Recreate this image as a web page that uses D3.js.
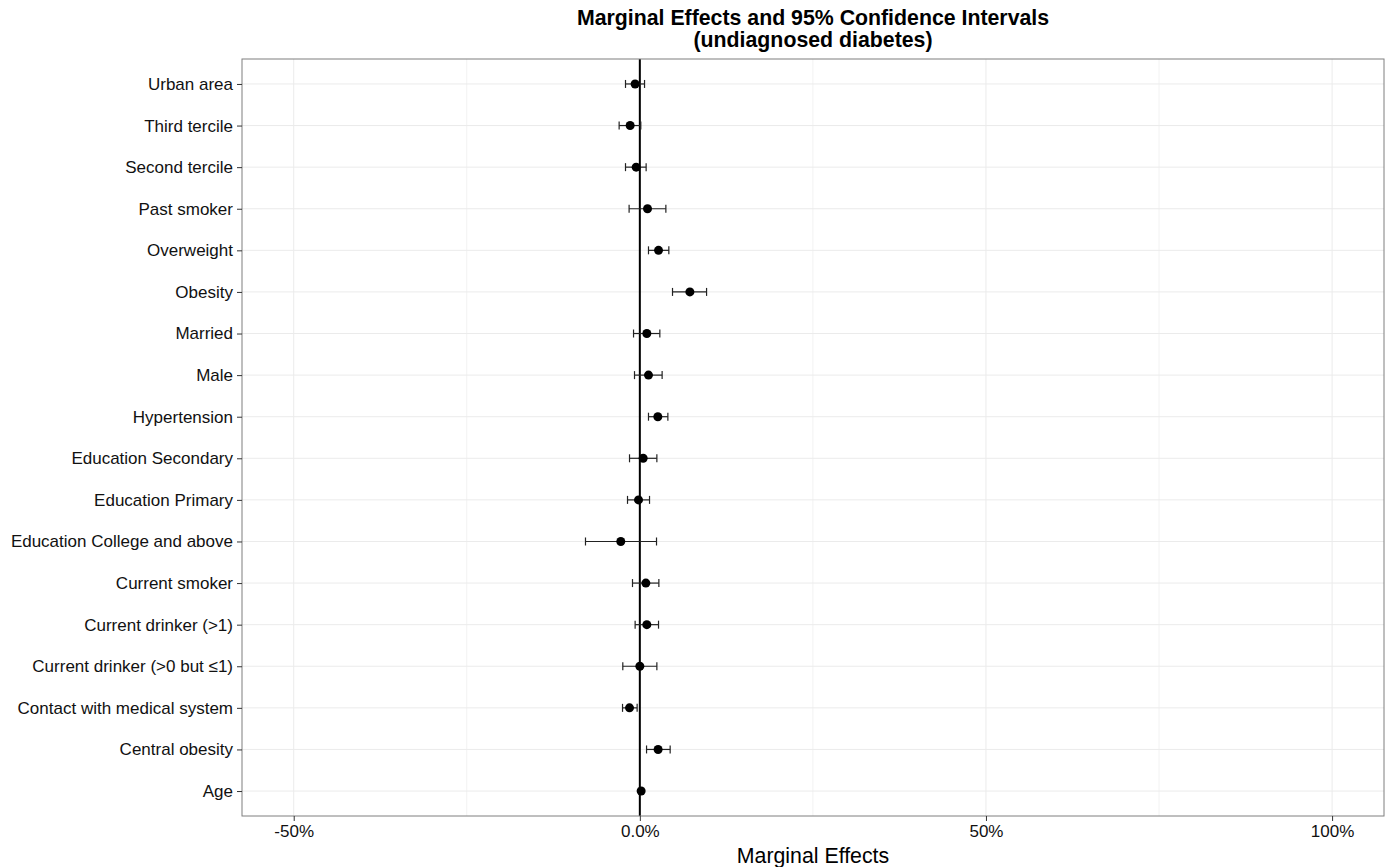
<!DOCTYPE html>
<html>
<head>
<meta charset="utf-8">
<script src="https://cdn.jsdelivr.net/npm/d3@7"></script>
<style>
  body { margin: 0; background: #fff; }
  text { font-family: "Liberation Sans", Arial, sans-serif; }
</style>
</head>
<body>
<svg id="chart" width="1388" height="867"></svg>
<script>
// variables, top row first
let variables = ["Urban area", "Third tercile", "Second tercile", "Past smoker", "Overweight",
  "Obesity", "Married", "Male", "Hypertension", "Education Secondary", "Education Primary",
  "Education College and above", "Current smoker", "Current drinker (>1)",
  "Current drinker (>0 but \u22641)", "Contact with medical system", "Central obesity", "Age"]
// marginal effects (%) and 95% CI bounds
let effects = [-0.68, -1.40, -0.53, 1.11, 2.70, 7.23, 1.01, 1.25, 2.60, 0.48, -0.19, -2.75, 0.87, 1.01, 0.00, -1.49, 2.64, 0.19]
let lower   = [-2.07, -2.99, -2.07, -1.55, 1.25, 4.72, -0.91, -0.77, 1.25, -1.49, -1.78, -7.85, -1.06, -0.68, -2.46, -2.50, 0.97, 0.12]
let upper   = [0.68, 0.14, 0.91, 3.76, 4.19, 9.64, 2.89, 3.22, 4.05, 2.46, 1.40, 2.41, 2.75, 2.70, 2.46, -0.39, 4.38, 0.26]
let xTicks = [-50, 0, 50, 100]
let xTickLabels = ["-50%", "0.0%", "50%", "100%"]
let xMinor = [-25, 25, 75]

let rows = variables.map((v, i) => ({ name: v, est: effects[i], lo: lower[i], hi: upper[i] }))

let svg = d3.select('#chart')
let pLeft = 242, pRight = 1384, pTop = 59, pBottom = 816

let x = d3.scaleLinear().domain([-57.47, 107.5]).range([pLeft, pRight])
let y = d3.scalePoint().domain(variables).range([pTop, pBottom]).padding(0.6)

// panel
svg.append('rect')
    .attr('x', pLeft).attr('y', pTop)
    .attr('width', pRight - pLeft).attr('height', pBottom - pTop)
    .attr('fill', '#fff')

// minor grid
svg.selectAll('.minor').data(xMinor).enter().append('line')
    .attr('x1', d => x(d)).attr('x2', d => x(d))
    .attr('y1', pTop).attr('y2', pBottom)
    .attr('stroke', '#f2f2f2').attr('stroke-width', 1)

// major grid
svg.selectAll('.vgrid').data(xTicks).enter().append('line')
    .attr('x1', d => x(d)).attr('x2', d => x(d))
    .attr('y1', pTop).attr('y2', pBottom)
    .attr('stroke', '#ebebeb').attr('stroke-width', 1)
svg.selectAll('.hgrid').data(variables).enter().append('line')
    .attr('x1', pLeft).attr('x2', pRight)
    .attr('y1', d => y(d)).attr('y2', d => y(d))
    .attr('stroke', '#ebebeb').attr('stroke-width', 1)

// zero line
svg.append('line')
    .attr('x1', x(0)).attr('x2', x(0))
    .attr('y1', pTop).attr('y2', pBottom)
    .attr('stroke', '#000').attr('stroke-width', 2)

// error bars
let cap = 4
let bars = svg.selectAll('.bar').data(rows).enter().append('g')
    .attr('stroke', '#222').attr('stroke-width', 1.2)
bars.append('line')
    .attr('x1', d => x(d.lo)).attr('x2', d => x(d.hi))
    .attr('y1', d => y(d.name)).attr('y2', d => y(d.name))
bars.append('line')
    .attr('x1', d => x(d.lo)).attr('x2', d => x(d.lo))
    .attr('y1', d => y(d.name) - cap).attr('y2', d => y(d.name) + cap)
bars.append('line')
    .attr('x1', d => x(d.hi)).attr('x2', d => x(d.hi))
    .attr('y1', d => y(d.name) - cap).attr('y2', d => y(d.name) + cap)

// points
svg.selectAll('.pt').data(rows).enter().append('circle')
    .attr('cx', d => x(d.est)).attr('cy', d => y(d.name))
    .attr('r', 4.5).attr('fill', '#000')

// border
svg.append('rect')
    .attr('x', pLeft).attr('y', pTop)
    .attr('width', pRight - pLeft).attr('height', pBottom - pTop)
    .attr('fill', 'none').attr('stroke', '#7f7f7f').attr('stroke-width', 1)

// axes
let xAxis = svg.append('g')
    .attr('transform', `translate(0,${pBottom})`)
    .call(d3.axisBottom(x).tickValues(xTicks).tickFormat((d, i) => xTickLabels[i]).tickSize(5).tickPadding(4))
xAxis.select('.domain').remove()
xAxis.selectAll('line').attr('stroke', '#333')
xAxis.selectAll('text').attr('font-size', 17).attr('fill', '#111')
    .style('font-family', '"Liberation Sans", Arial, sans-serif')

let yAxis = svg.append('g')
    .attr('transform', `translate(${pLeft},0)`)
    .call(d3.axisLeft(y).tickSize(5).tickPadding(4))
yAxis.select('.domain').remove()
yAxis.selectAll('line').attr('stroke', '#333')
yAxis.selectAll('text').attr('font-size', 17).attr('fill', '#111')
    .style('font-family', '"Liberation Sans", Arial, sans-serif')

// titles
let cx = (pLeft + pRight) / 2
svg.append('text')
    .attr('x', cx).attr('y', 25)
    .attr('text-anchor', 'middle')
    .attr('font-size', 21.3).attr('font-weight', 'bold')
    .text('Marginal Effects and 95% Confidence Intervals')
svg.append('text')
    .attr('x', cx).attr('y', 47)
    .attr('text-anchor', 'middle')
    .attr('font-size', 21.3).attr('font-weight', 'bold')
    .text('(undiagnosed diabetes)')
svg.append('text')
    .attr('x', cx).attr('y', 863)
    .attr('text-anchor', 'middle')
    .attr('font-size', 21.3)
    .text('Marginal Effects')
</script>
</body>
</html>
